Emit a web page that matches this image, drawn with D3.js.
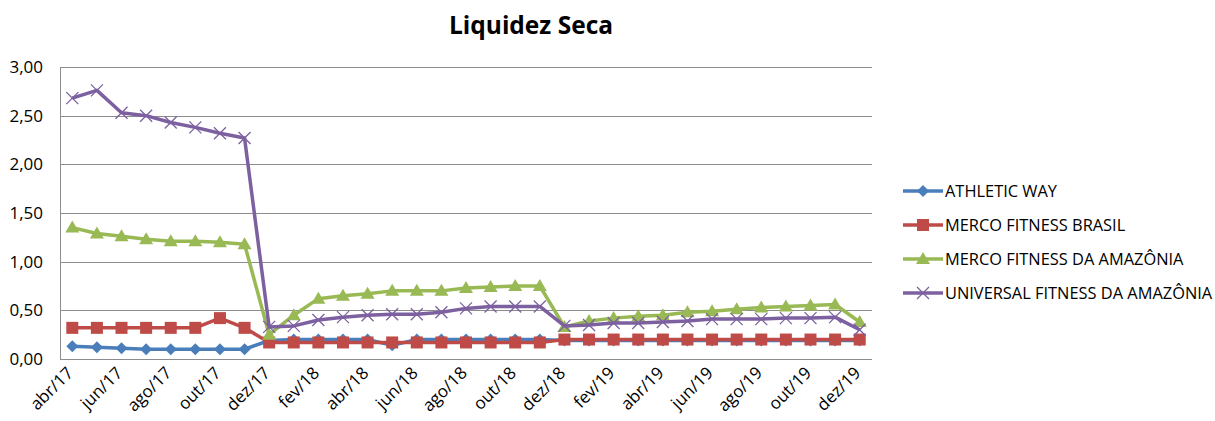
<!DOCTYPE html>
<html>
<head>
<meta charset="utf-8">
<script src="https://cdn.jsdelivr.net/npm/d3@7"></script>
<style>
  body { margin: 0; background: #fff; }
  text { font-family: "Open Sans", "Noto Sans", sans-serif; fill: #000; }
</style>
</head>
<body>
<svg id="chart" width="1215" height="421"></svg>
<script>
// months abr/17 .. dez/19
var months = ["abr/17","mai/17","jun/17","jul/17","ago/17","set/17","out/17","nov/17","dez/17",
  "jan/18","fev/18","mar/18","abr/18","mai/18","jun/18","jul/18","ago/18","set/18","out/18","nov/18","dez/18",
  "jan/19","fev/19","mar/19","abr/19","mai/19","jun/19","jul/19","ago/19","set/19","out/19","nov/19","dez/19"];

var athletic = [0.13,0.12,0.11,0.10,0.10,0.10,0.10,0.10,0.19,
  0.20,0.20,0.20,0.20,0.14,0.20,0.20,0.20,0.20,0.20,0.20,0.19,
  0.19,0.19,0.19,0.19,0.19,0.19,0.19,0.19,0.19,0.19,0.19,0.19];

var mercoBrasil = [0.32,0.32,0.32,0.32,0.32,0.32,0.42,0.32,0.17,
  0.17,0.17,0.17,0.17,0.17,0.17,0.17,0.17,0.17,0.17,0.17,0.20,
  0.20,0.20,0.20,0.20,0.20,0.20,0.20,0.20,0.20,0.20,0.20,0.20];

var mercoAmazonia = [1.35,1.29,1.26,1.23,1.21,1.21,1.20,1.18,0.25,
  0.45,0.62,0.65,0.67,0.70,0.70,0.70,0.73,0.74,0.75,0.75,0.33,
  0.39,0.42,0.44,0.45,0.48,0.49,0.51,0.53,0.54,0.55,0.56,0.38];

var universal = [2.68,2.76,2.53,2.50,2.43,2.38,2.32,2.27,0.33,
  0.34,0.40,0.43,0.45,0.46,0.46,0.48,0.52,0.54,0.54,0.54,0.34,
  0.35,0.37,0.37,0.38,0.39,0.41,0.41,0.41,0.42,0.42,0.43,0.30];

var yTicks = [0, 0.5, 1, 1.5, 2, 2.5, 3];
var xLabels = months.filter(function(d, i) { return i % 2 === 0; });

var series = [
  { name: "ATHLETIC WAY", values: athletic, color: "#4a7ebb", marker: "diamond" },
  { name: "MERCO FITNESS BRASIL", values: mercoBrasil, color: "#be4b48", marker: "square" },
  { name: "MERCO FITNESS DA AMAZÔNIA", values: mercoAmazonia, color: "#98b954", marker: "triangle" },
  { name: "UNIVERSAL FITNESS DA AMAZÔNIA", values: universal, color: "#7d60a0", marker: "cross" }
];

var margin = { left: 60, top: 67, right: 343, bottom: 62 };
var svg = d3.select("#chart");
var W = 1215, H = 421;
var width = W - margin.left - margin.right,
    height = H - margin.top - margin.bottom;

var x = d3.scaleBand().domain(months).range([0, width]);
var y = d3.scaleLinear().domain([0, 3]).range([height, 0]);
var fmt = function(v) { return d3.format(".2f")(v).replace(".", ","); };

svg.append("text")
  .attr("x", 531).attr("y", 34)
  .attr("text-anchor", "middle")
  .style("font-size", "24.5px").style("font-weight", "bold")
  .text("Liquidez Seca");

var g = svg.append("g").attr("transform", "translate(" + margin.left + "," + margin.top + ")");

// gridlines
g.selectAll(".grid").data(yTicks.slice(1)).enter().append("line")
  .attr("x1", 0).attr("x2", width)
  .attr("y1", function(d) { return Math.round(y(d)) + 0.5; })
  .attr("y2", function(d) { return Math.round(y(d)) + 0.5; })
  .attr("stroke", "#8c8c8c").attr("stroke-width", 1);

// axes lines
g.append("line").attr("x1", 0.5).attr("x2", 0.5).attr("y1", 0).attr("y2", height)
  .attr("stroke", "#8c8c8c");
g.append("line").attr("x1", 0).attr("x2", width)
  .attr("y1", Math.round(height) + 0.5).attr("y2", Math.round(height) + 0.5)
  .attr("stroke", "#8c8c8c");

// y labels
g.selectAll(".ylab").data(yTicks).enter().append("text")
  .attr("x", -17).attr("y", function(d) { return y(d) + 6; })
  .attr("text-anchor", "end")
  .style("font-size", "17px")
  .text(fmt);

// x labels
g.selectAll(".xlab").data(xLabels).enter().append("text")
  .attr("text-anchor", "end")
  .attr("transform", function(d) {
    var cx = x(d) + x.bandwidth() / 2 + 2;
    return "translate(" + cx + "," + (height + 15) + ") rotate(-45)";
  })
  .style("font-size", "17px")
  .text(function(d) { return d; });

function drawMarker(sel, type, color) {
  if (type === "diamond") {
    sel.append("path").attr("d", "M0,-6L6,0L0,6L-6,0Z").attr("fill", color);
  } else if (type === "square") {
    sel.append("rect").attr("x", -6).attr("y", -6).attr("width", 12).attr("height", 12).attr("fill", color);
  } else if (type === "triangle") {
    sel.append("path").attr("d", "M0,-7L7,5L-7,5Z").attr("fill", color);
  } else {
    sel.append("path").attr("d", "M-6,-6L6,6M-6,6L6,-6").attr("stroke", color)
      .attr("stroke-width", 1.3).attr("fill", "none");
  }
}

var line = d3.line()
  .x(function(d, i) { return x(months[i]) + x.bandwidth() / 2; })
  .y(function(d) { return y(d); });

series.forEach(function(s) {
  g.append("path").datum(s.values)
    .attr("d", line)
    .attr("fill", "none")
    .attr("stroke", s.color)
    .attr("stroke-width", 3.5)
    .attr("stroke-linejoin", "round");
  s.values.forEach(function(v, i) {
    var m = g.append("g")
      .attr("transform", "translate(" + (x(months[i]) + x.bandwidth() / 2) + "," + y(v) + ")");
    drawMarker(m, s.marker, s.color);
  });
});

// legend
var legend = svg.append("g").attr("transform", "translate(903,191)");
series.forEach(function(s, i) {
  var lg = legend.append("g").attr("transform", "translate(0," + (i * 34) + ")");
  lg.append("line").attr("x1", 0).attr("x2", 40).attr("y1", 0).attr("y2", 0)
    .attr("stroke", s.color).attr("stroke-width", 3.5);
  var m = lg.append("g").attr("transform", "translate(20,0)");
  drawMarker(m, s.marker, s.color);
  lg.append("text").attr("x", 42).attr("y", 6)
    .style("font-size", "16.4px")
    .text(s.name);
});
</script>
</body>
</html>
